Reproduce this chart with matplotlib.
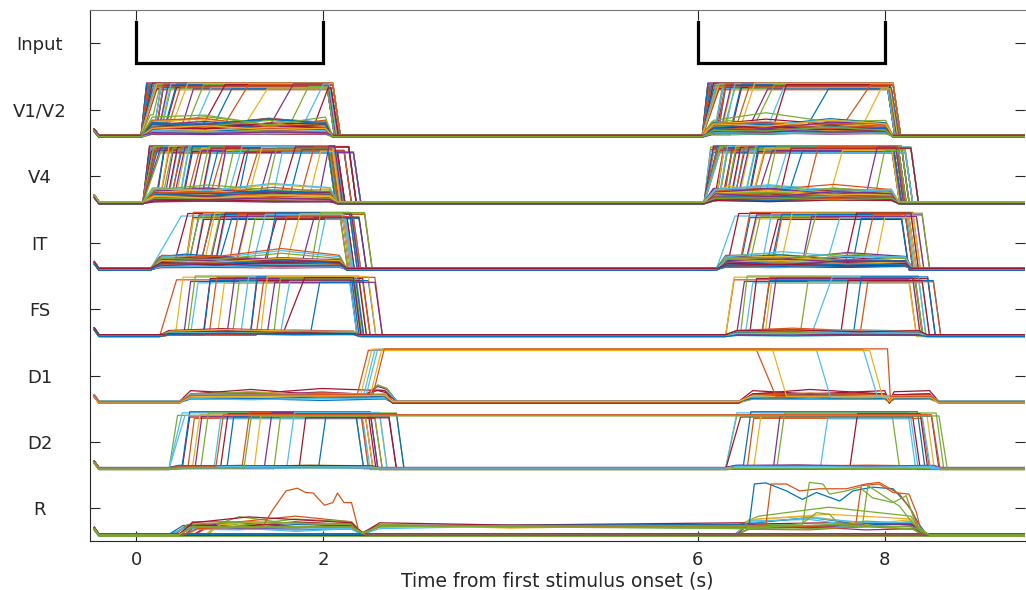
import matplotlib
matplotlib.use('Agg')
import matplotlib.pyplot as plt
import numpy as np

plt.rcParams['font.family'] = 'DejaVu Sans'

# matlab default colour order
COLORS = ['#0072BD', '#D95319', '#EDB120', '#7E2F8E', '#77AC30', '#4DBEEE', '#A2142F']

ROW_NAMES = ['R', 'D2', 'D1', 'FS', 'IT', 'V4', 'V1/V2', 'Input']
ROW_LEVELS = [1, 2, 3, 4, 5, 6, 7, 8]
# peak height of each row's traces (row units)
ROW_AMP = {1: 0.8, 2: 0.8, 3: 0.78, 4: 0.84, 5: 0.8, 6: 0.8, 7: 0.75}
X_TICKS = [0, 2, 6, 8]

# stimulus windows (s)
STIM_ON = [0, 6]
STIM_OFF = [2, 8]

# ---- V1/V2 ----
V1_WIN_A = [0.05, 2.10]
V1_WIN_B = [6.05, 8.09]
V1_ON_A = [0.05, 0.07, 0.09, 0.11, 0.13, 0.15, 0.18, 0.21, 0.24, 0.27, 0.31, 0.35,
           0.40, 0.46, 0.52, 0.60, 0.70, 0.82, 0.95, 1.10, 1.40, 1.62, 1.78, 1.90]
V1_N_A = [8, 8, 7, 6, 5, 4, 3, 3, 2, 2, 2, 1, 1, 1, 1, 1, 1, 1, 1, 1, 1, 1, 1, 1]
V1_RISE_A = [0.06, 0.06, 0.06, 0.06, 0.07, 0.07, 0.08, 0.08, 0.10, 0.10, 0.12, 0.12,
             0.15, 0.15, 0.20, 0.20, 0.25, 0.20, 0.25, 0.30, 0.28, 0.22, 0.22, 0.15]
V1_OFF_A = [2.04, 2.06, 2.08, 2.10, 2.07, 2.05]
V1_SUB_A = [0.04, 0.06, 0.08, 0.10, 0.12, 0.14, 0.16, 0.18, 0.20, 0.22, 0.25, 0.28,
            0.05, 0.09, 0.13, 0.17, 0.21, 0.24, 0.07, 0.11, 0.15, 0.19, 0.23, 0.30,
            0.03, 0.10, 0.14, 0.18, 0.26, 0.35, 0.12, 0.16, 0.20, 0.08, 0.22, 0.27,
            0.13, 0.17, 0.06, 0.40]
V1_ON_B = [6.05, 6.07, 6.09, 6.11, 6.13, 6.16, 6.19, 6.22, 6.26, 6.30, 6.35, 6.40,
           6.46, 6.55, 6.62, 6.72, 6.80, 7.15, 7.55, 7.76]
V1_N_B = [8, 8, 7, 6, 5, 4, 3, 3, 2, 2, 2, 1, 1, 1, 1, 1, 1, 1, 1, 1]
V1_RISE_B = [0.06, 0.06, 0.06, 0.06, 0.07, 0.07, 0.08, 0.08, 0.10, 0.10, 0.12, 0.15,
             0.15, 0.20, 0.20, 0.20, 0.15, 0.25, 0.30, 0.20]
V1_OFF_B = [8.03, 8.05, 8.07, 8.09, 8.06, 8.04]
V1_SUB_B = [0.05, 0.09, 0.12, 0.16, 0.20, 0.24, 0.07, 0.11, 0.15, 0.19, 0.23, 0.28,
            0.04, 0.10, 0.14, 0.18, 0.22, 0.26, 0.08, 0.13, 0.17, 0.21, 0.30, 0.12]

# ---- V4 ----
V4_WIN_A = [0.07, 2.15]
V4_WIN_B = [6.07, 8.15]
V4_ON_A = [0.08, 0.10, 0.12, 0.15, 0.18, 0.22, 0.26, 0.30, 0.34, 0.38, 0.42, 0.46,
           0.50, 0.55, 0.60, 0.65, 0.70, 0.75, 0.80, 0.86, 0.92, 0.98, 1.04, 1.10,
           1.16, 1.22, 1.30, 1.38, 1.46, 1.55, 1.65, 1.75, 1.85, 1.96]
V4_N_A = [5, 6, 5, 4, 3, 3, 2, 2, 2, 2, 2, 2, 2, 1, 2, 1, 2, 1, 1, 2, 1, 1, 1, 1,
          1, 1, 1, 1, 1, 1, 1, 1, 1, 1]
V4_RISE_A = [0.06, 0.06, 0.07, 0.07, 0.08, 0.08, 0.09, 0.09, 0.10, 0.10, 0.10, 0.10,
             0.10, 0.12, 0.10, 0.12, 0.10, 0.12, 0.14, 0.10, 0.12, 0.15, 0.12, 0.10,
             0.14, 0.12, 0.15, 0.12, 0.10, 0.15, 0.12, 0.15, 0.12, 0.10]
V4_OFF_A = [2.05, 2.08, 2.10, 2.12, 2.15, 2.08, 2.22, 2.10, 2.32, 2.06, 2.13, 2.27]
V4_SUB_A = [0.04, 0.07, 0.10, 0.13, 0.16, 0.19, 0.22, 0.05, 0.09, 0.12, 0.15, 0.18,
            0.21, 0.06, 0.08, 0.11, 0.14, 0.17, 0.20, 0.24, 0.03, 0.10, 0.13, 0.16,
            0.19, 0.07, 0.12, 0.15, 0.09, 0.26, 0.05, 0.14, 0.18, 0.11, 0.08, 0.22]
V4_ON_B = [6.08, 6.11, 6.14, 6.17, 6.20, 6.24, 6.28, 6.32, 6.36, 6.40, 6.45, 6.50,
           6.55, 6.60, 6.66, 6.72, 6.80, 6.88, 6.97, 7.17, 7.40, 7.80, 7.90]
V4_N_B = [3, 5, 5, 4, 4, 3, 3, 3, 2, 2, 2, 2, 2, 2, 1, 1, 1, 1, 1, 1, 1, 1, 1]
V4_RISE_B = [0.06, 0.06, 0.07, 0.07, 0.08, 0.08, 0.09, 0.09, 0.10, 0.10, 0.10, 0.12,
             0.10, 0.12, 0.14, 0.12, 0.15, 0.12, 0.15, 0.12, 0.15, 0.12, 0.10]
V4_OFF_B = [8.08, 8.12, 8.15, 8.18, 8.22, 8.28, 8.10, 8.14]
V4_SUB_B = [0.05, 0.08, 0.11, 0.14, 0.17, 0.20, 0.23, 0.06, 0.10, 0.13, 0.16, 0.19,
            0.07, 0.12, 0.15, 0.09, 0.18, 0.25]

# ---- IT ----
IT_WIN_A = [0.15, 2.25]
IT_WIN_B = [6.20, 8.30]
IT_ON_A = [0.26, 0.40, 0.53, 0.57, 0.62, 0.69, 0.74, 0.78, 0.85, 0.90, 0.99, 1.07,
           1.17, 1.26, 1.35, 1.39, 1.49, 1.60, 1.78, 1.87, 1.92]
IT_N_A = [1, 1, 3, 2, 2, 2, 1, 2, 2, 1, 1, 2, 1, 1, 1, 1, 1, 1, 1, 1, 1]
IT_RISE_A = [0.22, 0.15, 0.08, 0.10, 0.10, 0.12, 0.10, 0.12, 0.10, 0.12, 0.10, 0.12,
             0.10, 0.12, 0.15, 0.10, 0.12, 0.15, 0.12, 0.10, 0.10]
IT_OFF_A = [2.18, 2.22, 2.25, 2.28, 2.32, 2.20, 2.38, 2.44, 2.24, 2.30]
IT_SUB_A = [0.03, 0.06, 0.09, 0.12, 0.15, 0.18, 0.22, 0.04, 0.08, 0.11, 0.14, 0.20,
            0.05, 0.10, 0.13, 0.16, 0.25, 0.07, 0.09, 0.12, 0.06, 0.17, 0.04, 0.10,
            0.14, 0.08, 0.19, 0.05, 0.11, 0.13]
IT_ON_B = [6.25, 6.32, 6.46, 6.53, 6.55, 6.69, 6.74, 6.80, 6.89, 7.12, 7.15, 7.37,
           7.58, 7.65, 7.76, 7.90]
IT_N_B = [1, 1, 2, 2, 1, 1, 1, 2, 1, 1, 1, 1, 1, 1, 1, 1]
IT_RISE_B = [0.15, 0.12, 0.10, 0.10, 0.12, 0.10, 0.12, 0.10, 0.12, 0.10, 0.12, 0.15,
             0.12, 0.10, 0.12, 0.10]
IT_OFF_B = [8.18, 8.22, 8.26, 8.30, 8.34, 8.40, 8.24, 8.28]
IT_SUB_B = [0.04, 0.08, 0.12, 0.16, 0.20, 0.25, 0.06, 0.10, 0.14, 0.18, 0.05, 0.09,
            0.13, 0.22, 0.07, 0.11]

# ---- FS ----
FS_WIN_A = [0.25, 2.40]
FS_WIN_B = [6.30, 8.45]
FS_ON_A = [0.35, 0.42, 0.51, 0.55, 0.58, 0.72, 0.78, 0.87, 0.97, 1.03, 1.12, 1.22,
           1.28, 1.33, 1.40, 1.47, 1.54, 1.58, 1.86]
FS_N_A = [1, 1, 1, 1, 1, 2, 1, 1, 1, 1, 1, 2, 1, 1, 1, 1, 1, 1, 1]
FS_RISE_A = [0.08, 0.08, 0.07, 0.08, 0.08, 0.07, 0.08, 0.07, 0.08, 0.07, 0.08, 0.07,
             0.08, 0.07, 0.08, 0.07, 0.10, 0.22, 0.10]
FS_OFF_A = [2.28, 2.32, 2.35, 2.38, 2.30, 2.42, 2.48, 2.55, 2.33]
FS_SUB_A = [0.02, 0.04, 0.06, 0.03, 0.05, 0.08, 0.02, 0.04, 0.07, 0.03, 0.05, 0.06,
            0.02, 0.04]
FS_ON_B = [6.32, 6.42, 6.46, 6.51, 6.56, 6.69, 6.72, 6.76, 7.10, 7.22, 7.53, 7.67, 7.74]
FS_N_B = [2, 1, 1, 1, 1, 2, 1, 1, 1, 1, 1, 1, 1]
FS_RISE_B = [0.07, 0.08, 0.07, 0.08, 0.07, 0.08, 0.07, 0.08, 0.08, 0.22, 0.08, 0.08, 0.08]
FS_OFF_B = [8.26, 8.30, 8.33, 8.36, 8.40, 8.46, 8.52, 8.32]
FS_SUB_B = [0.03, 0.05, 0.07, 0.02, 0.04, 0.06, 0.08, 0.03]

# ---- D1 ----
D1_WIN_A = [0.46, 2.74]
D1_WIN_B = [6.44, 8.58]
D1_UP = [2.36, 2.40, 2.43, 2.46, 2.50, 2.53]
D1_DOWN = [6.63, 6.80, 7.27, 7.77, 7.84, 8.03]
D1_DOWN_LEN = [0.21, 0.15, 0.15, 0.15, 0.14, 0.03]
D1_COLORS = ['#D95319', '#EDB120', '#4DBEEE', '#4DBEEE', '#EDB120', '#D95319']
D1_SUB_A = [0.08, 0.12, 0.15, 0.10, 0.18, 0.06, 0.14, 0.11, 0.16, 0.09, 0.13, 0.20,
            0.07, 0.12, 0.15, 0.10, 0.17, 0.05, 0.13, 0.09, 0.14, 0.11]
D1_BUMP = [0.32, 0.28, 0.35, 0.22, 0.25]
D1_SUB_B = [0.08, 0.12, 0.15, 0.10, 0.18, 0.06, 0.14, 0.11, 0.16, 0.09, 0.13, 0.20,
            0.07, 0.12]
D1_NOTCH = 8.05

# ---- D2 ----
D2_WIN_A = [0.35, 2.60]
D2_WIN_B = [6.30, 8.60]
D2_ON_A = [0.37, 0.42, 0.49, 0.55, 0.60, 0.63, 0.69, 0.83, 0.90, 0.97, 1.13, 1.26,
           1.37, 1.47, 1.61, 1.74, 1.95]
D2_N_A = [1, 1, 2, 1, 1, 1, 1, 1, 1, 1, 1, 1, 1, 1, 1, 1, 1]
D2_RISE_A = [0.07, 0.07, 0.08, 0.07, 0.08, 0.07, 0.08, 0.07, 0.08, 0.07, 0.08, 0.07,
             0.08, 0.07, 0.08, 0.07, 0.08]
D2_OFF_A = [2.35, 2.40, 2.45, 2.50, 2.55, 2.60, 2.70, 2.78, 2.42, 2.48]
D2_SUB_A = [0.02, 0.03, 0.01, 0.04, 0.02, 0.03, 0.05, 0.02, 0.03, 0.01, 0.04, 0.02]
D2_KEEP_ON = [0.44, 0.85, 1.15]
D2_KEEP_OFF = [8.40, 8.50, 8.58]
D2_ON_B = [6.35, 6.39, 6.49, 6.53, 6.60, 6.81, 6.85, 7.31, 7.63]
D2_N_B = [2, 1, 1, 1, 1, 1, 1, 1, 1]
D2_RISE_B = [0.07, 0.07, 0.08, 0.07, 0.08, 0.07, 0.08, 0.08, 0.08]
D2_OFF_B = [8.08, 8.25, 8.30, 8.35, 8.40, 8.45, 8.50, 8.55, 8.28, 8.38]
D2_SUB_B = [0.02, 0.03, 0.01, 0.04, 0.02, 0.03]

# ---- R ----
R_SUB_A = [0.12, 0.18, 0.22, 0.15, 0.25, 0.10, 0.20, 0.16, 0.28, 0.14, 0.19, 0.23,
           0.13, 0.17]
R_SUB_START = [0.35, 0.45, 0.55, 0.62, 0.75, 0.50, 0.40]
R_LONG = [0.15, 0.18, 0.20, 0.17, 0.14, 0.22]
R_LONG_B = [0.22, 0.28, 0.18, 0.32, 0.25, 0.20]
R_SUB_B = [0.12, 0.20, 0.28, 0.16, 0.24, 0.10, 0.30, 0.18, 0.14, 0.22]
R_N_FLAT = 8
R_BUMP_T = [1.35, 1.46, 1.60, 1.72, 1.81, 1.89, 2.01, 2.10, 2.15, 2.22, 2.30, 2.38]
R_BUMP_V = [0.16, 0.48, 0.83, 0.88, 0.80, 0.79, 0.56, 0.61, 0.79, 0.61, 0.61, 0.06]
R_HIGH_B = [
    ('#0072BD', [6.50, 6.553, 6.607, 6.73, 6.95, 7.12, 7.27, 7.52, 7.66, 7.87, 8.09, 8.26, 8.36, 8.44],
                [0.20, 0.22, 0.96, 0.98, 0.83, 0.67, 0.80, 0.64, 0.83, 0.90, 0.87, 0.54, 0.22, 0.03]),
    ('#D95319', [6.50, 6.73, 6.785, 6.95, 7.09, 7.30, 7.59, 7.80, 7.94, 8.16, 8.30, 8.37],
                [0.18, 0.19, 0.96, 0.96, 0.83, 0.87, 0.87, 0.96, 0.99, 0.77, 0.42, 0.10]),
    ('#77AC30', [6.60, 7.12, 7.195, 7.34, 7.41, 7.59, 7.73, 7.87, 8.09, 8.23, 8.34],
                [0.15, 0.19, 0.99, 0.96, 0.77, 0.83, 0.90, 0.70, 0.61, 0.74, 0.16]),
    ('#D95319', [6.90, 7.69, 7.75, 7.94, 8.09, 8.26, 8.34, 8.39],
                [0.15, 0.19, 0.93, 0.96, 0.80, 0.77, 0.42, 0.06]),
    ('#77AC30', [6.60, 7.12, 7.27, 7.41, 7.52, 8.30],
                [0.12, 0.22, 0.42, 0.39, 0.19, 0.15]),
    ('#77AC30', [7.00, 7.765, 7.82, 8.02, 8.16, 8.30],
                [0.17, 0.22, 0.93, 0.70, 0.54, 0.22]),
]

# small per-trace offsets so overlapping traces show as a band
SPREAD = [0.0, 0.035, -0.02, 0.05, -0.04, 0.015, -0.01, 0.03, -0.045, 0.02, -0.03, 0.04]
BSPREAD = [0.0, 0.010, -0.008, 0.015, -0.012, 0.005, -0.004, 0.012, -0.015, 0.008]
DRIFT1 = [1.3, 0.7, 1.1, 0.8, 1.5, 0.9, 1.2, 0.6, 1.0, 1.4]
DRIFT2 = [0.8, 1.2, 0.6, 1.3, 0.9, 1.5, 0.7, 1.1, 1.4, 1.0]


def expand(vals, counts):
    out = []
    for v, n in zip(vals, counts):
        out += [v] * n
    return out


def rise_seg(win, ton, rise, toff, fall, low, i=0):
    s0 = win[0]
    pts = [(min(s0, ton), 0.0)]
    if ton - s0 > 0.12:
        pts += [(s0 + 0.1, low)]
        if ton - s0 > 0.5:
            pts += [((s0 + ton) / 2, low * DRIFT1[i % 10])]
        pts += [(ton, low)]
    pts += [(ton + rise, 1.0), (toff, 1.0), (toff + fall, 0.0)]
    return pts


def sub_seg(win, e, i):
    s0, s1 = win
    d = s1 - s0
    return [(s0, 0.0), (s0 + 0.12, e), (s0 + d / 3, e * DRIFT1[i % 10]),
            (s0 + 2 * d / 3, e * DRIFT2[i % 10]), (s1 - 0.08, e), (s1, 0.0)]


def draw_trace(ax, level, pts, color, i, sp=None):
    t = [-0.45, -0.40] + [p[0] for p in pts] + [9.6]
    v = np.array([0.12, 0.0] + [p[1] for p in pts] + [0.0])
    if sp is None:
        sp = SPREAD[i % len(SPREAD)]
    y = level - 0.4 + ROW_AMP[level] * v * (1 + sp) + BSPREAD[i % len(BSPREAD)]
    ax.plot(t, y, color=color, lw=0.9)


def draw_row(ax, level, win_a, win_b, on_a, rise_a, off_a, sub_a,
             on_b, rise_b, off_b, sub_b, k0=0):
    n = len(on_a) + len(sub_a)
    for i in range(n):
        pts = []
        low = sub_a[i % len(sub_a)]
        if i < len(on_a):
            pts += rise_seg(win_a, on_a[i], rise_a[i], off_a[i % len(off_a)], 0.08, low, i)
        else:
            pts += sub_seg(win_a, sub_a[i - len(on_a)], i)
        lowb = sub_b[i % len(sub_b)]
        if i < len(on_b):
            pts += rise_seg(win_b, on_b[i], rise_b[i], off_b[i % len(off_b)], 0.08, lowb, i + 3)
        else:
            pts += sub_seg(win_b, sub_b[(i - len(on_b)) % len(sub_b)], i + 3)
        draw_trace(ax, level, pts, COLORS[(i + k0) % 7], i)


fig = plt.figure(figsize=(10.26, 5.9), dpi=100)
ax = fig.add_axes([89.6 / 1026, 49 / 590, 935.4 / 1026, 531 / 590])

# Input bracket
for on, off in zip(STIM_ON, STIM_OFF):
    ax.plot([on, on, off, off], [8.325, 7.70, 7.70, 8.325], color='k', lw=2.3,
            solid_joinstyle='miter')

draw_row(ax, 7, V1_WIN_A, V1_WIN_B, expand(V1_ON_A, V1_N_A), expand(V1_RISE_A, V1_N_A),
         V1_OFF_A, V1_SUB_A, expand(V1_ON_B, V1_N_B), expand(V1_RISE_B, V1_N_B),
         V1_OFF_B, V1_SUB_B, 0)
draw_row(ax, 6, V4_WIN_A, V4_WIN_B, expand(V4_ON_A, V4_N_A), expand(V4_RISE_A, V4_N_A),
         V4_OFF_A, V4_SUB_A, expand(V4_ON_B, V4_N_B), expand(V4_RISE_B, V4_N_B),
         V4_OFF_B, V4_SUB_B, 3)
draw_row(ax, 5, IT_WIN_A, IT_WIN_B, expand(IT_ON_A, IT_N_A), expand(IT_RISE_A, IT_N_A),
         IT_OFF_A, IT_SUB_A, expand(IT_ON_B, IT_N_B), expand(IT_RISE_B, IT_N_B),
         IT_OFF_B, IT_SUB_B, 5)
draw_row(ax, 4, FS_WIN_A, FS_WIN_B, expand(FS_ON_A, FS_N_A), expand(FS_RISE_A, FS_N_A),
         FS_OFF_A, FS_SUB_A, expand(FS_ON_B, FS_N_B), expand(FS_RISE_B, FS_N_B),
         FS_OFF_B, FS_SUB_B, 1)
draw_row(ax, 2, D2_WIN_A, D2_WIN_B, expand(D2_ON_A, D2_N_A), expand(D2_RISE_A, D2_N_A),
         D2_OFF_A, D2_SUB_A, expand(D2_ON_B, D2_N_B), expand(D2_RISE_B, D2_N_B),
         D2_OFF_B, D2_SUB_B, 4)

# D2 units that stay on between stimuli
for k, (on, off) in enumerate(zip(D2_KEEP_ON, D2_KEEP_OFF)):
    pts = rise_seg(D2_WIN_A, on, 0.08, off, 0.09, 0.02)
    draw_trace(ax, 2, pts, ['#4DBEEE', '#D95319', '#77AC30'][k], k, sp=0.0)

# D1
for i, e in enumerate(D1_SUB_A):
    s0, s1 = D1_WIN_A
    pts = sub_seg(D1_WIN_A, e, i)
    if i < len(D1_BUMP):
        pts = pts[:-2] + [(2.45, e), (2.58, D1_BUMP[i]), (2.68, D1_BUMP[i] * 0.8), (s1 + 0.05, 0.0)]
    eb = D1_SUB_B[i % len(D1_SUB_B)]
    b0, b1 = D1_WIN_B
    pts += [(b0, 0.0), (b0 + 0.15, eb), (7.2, eb * DRIFT1[i % 10]), (D1_NOTCH - 0.05, eb),
            (D1_NOTCH, 0.0), (D1_NOTCH + 0.05, eb * 0.9), (b1 - 0.1, eb), (b1, 0.0)]
    draw_trace(ax, 3, pts, COLORS[(i + 2) % 7], i)
for k in range(len(D1_UP)):
    s0 = D1_WIN_A[0]
    pts = [(s0, 0.0), (s0 + 0.12, 0.12), (D1_UP[k], 0.14), (D1_UP[k] + 0.12, 1.0),
           (D1_DOWN[k], 1.0), (D1_DOWN[k] + D1_DOWN_LEN[k], 0.1), (8.5, 0.1), (8.58, 0.0)]
    draw_trace(ax, 3, pts, D1_COLORS[k], k, sp=0.01 * (k % 3))

# R
for i, e in enumerate(R_SUB_A):
    st = R_SUB_START[i % len(R_SUB_START)]
    pts = [(st, 0.0), (st + 0.15, e), (1.1, e * DRIFT1[i % 10]), (1.7, e * DRIFT2[i % 10]),
           (2.3, e), (2.42, 0.0)]
    draw_trace(ax, 1, pts, COLORS[i % 7], i)
for i, e in enumerate(R_LONG):
    st = R_SUB_START[(i + 3) % len(R_SUB_START)]
    eb = R_LONG_B[i]
    pts = [(st, 0.0), (st + 0.15, e), (1.2, e * DRIFT2[i]), (2.3, e), (2.42, 0.03),
           (2.6, e), (4.0, e * DRIFT1[i] * 0.9), (6.45, e), (6.65, eb), (7.4, eb * DRIFT2[i + 2]),
           (8.28, eb), (8.40, 0.0)]
    draw_trace(ax, 1, pts, COLORS[(i + 1) % 7], i)
for i, e in enumerate(R_SUB_B):
    pts = [(6.40, 0.0), (6.55, e), (7.2, e * DRIFT1[i]), (7.8, e * DRIFT2[i]), (8.3, e), (8.42, 0.0)]
    draw_trace(ax, 1, pts, COLORS[(i + 3) % 7], i)
for i in range(R_N_FLAT):
    draw_trace(ax, 1, [], COLORS[i % 7], i)
bump = [(0.5, 0.0), (0.65, 0.12)] + list(zip(R_BUMP_T, R_BUMP_V)) + [(2.45, 0.0)]
draw_trace(ax, 1, bump, '#D95319', 0)
for k, (c, tt, vv) in enumerate(R_HIGH_B):
    pts = [(0.45, 0.0), (0.6, 0.15), (2.3, 0.15), (2.42, 0.03), (2.6, 0.17)]
    pts += list(zip(tt, vv)) + [(8.48, 0.0)]
    draw_trace(ax, 1, pts, c, 0)

ax.set_xlim(-0.5, 9.5)
ax.set_ylim(0.51, 8.5)
ax.set_xticks(X_TICKS)
ax.set_yticks(ROW_LEVELS)
ax.set_yticklabels(ROW_NAMES)
ax.tick_params(direction='in', length=7, width=0.8, top=True, right=True,
               labelsize=13, colors='#262626')
ax.tick_params(axis='y', pad=36)
ax.tick_params(axis='x', pad=7)
for lab in ax.get_yticklabels():
    lab.set_horizontalalignment('center')
ax.spines['right'].set_visible(False)
for s in ['left', 'bottom', 'top']:
    ax.spines[s].set_color('#262626')
    ax.spines[s].set_linewidth(0.8)
ax.spines['top'].set_color('#777777')
ax.set_xlabel('Time from first stimulus onset (s)', fontsize=13.5, labelpad=2, color='#262626')

fig.savefig('out.png', dpi=100)
